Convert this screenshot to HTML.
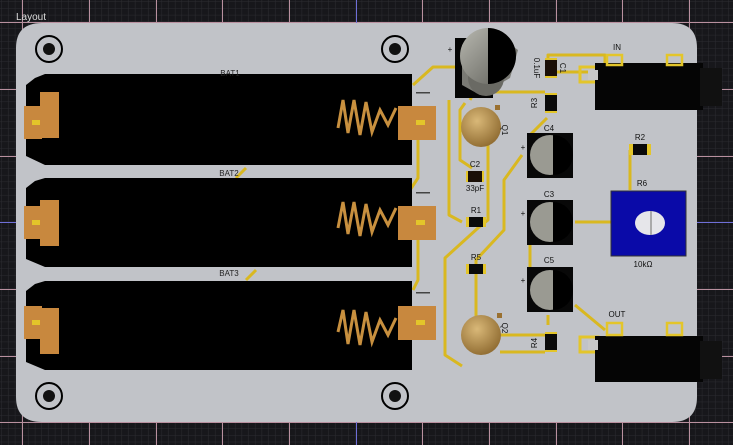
<!DOCTYPE html>
<html><head><meta charset="utf-8"><style>
html,body{margin:0;padding:0;background:#1b1b1f;}
svg{display:block;font-family:"Liberation Sans",sans-serif;}
</style></head><body>
<svg width="733" height="445" viewBox="0 0 733 445" xmlns="http://www.w3.org/2000/svg">
<defs>
<pattern id="minor" width="6.67" height="6.67" patternUnits="userSpaceOnUse" x="22" y="22">
<path d="M6.67 0V6.67H0" fill="none" stroke="#2c2c31" stroke-width="1"/>
</pattern>
<radialGradient id="gold" cx="0.4" cy="0.35" r="0.7"><stop offset="0" stop-color="#d9b878"/><stop offset="1" stop-color="#8e6a30"/></radialGradient>
<linearGradient id="capg" x1="0" y1="0" x2="1" y2="1"><stop offset="0" stop-color="#b8b8b0"/><stop offset="1" stop-color="#5e5e58"/></linearGradient>
</defs>
<rect width="733" height="445" fill="#17171b"/>
<rect width="733" height="445" fill="url(#minor)"/>
<g stroke="#b9909f" stroke-width="1">
<line x1="22.5" y1="0" x2="22.5" y2="445"/><line x1="89.5" y1="0" x2="89.5" y2="445"/><line x1="156.5" y1="0" x2="156.5" y2="445"/><line x1="222.5" y1="0" x2="222.5" y2="445"/><line x1="289.5" y1="0" x2="289.5" y2="445"/><line x1="422.5" y1="0" x2="422.5" y2="445"/><line x1="489.5" y1="0" x2="489.5" y2="445"/><line x1="556.5" y1="0" x2="556.5" y2="445"/><line x1="622.5" y1="0" x2="622.5" y2="445"/><line x1="689.5" y1="0" x2="689.5" y2="445"/>
<line x1="0" y1="22.5" x2="733" y2="22.5"/><line x1="0" y1="89.5" x2="733" y2="89.5"/><line x1="0" y1="156.5" x2="733" y2="156.5"/><line x1="0" y1="289.5" x2="733" y2="289.5"/><line x1="0" y1="356.5" x2="733" y2="356.5"/><line x1="0" y1="422.5" x2="733" y2="422.5"/>
</g>
<line x1="356.5" y1="0" x2="356.5" y2="445" stroke="#6f6fd8"/>
<line x1="0" y1="222.5" x2="733" y2="222.5" stroke="#6f6fd8"/>
<text x="16" y="20" font-size="10" fill="#ddd">Layout</text>
<path d="M42 23 H672 Q697 23 697 48 V397 Q697 422 672 422 H42 Q16 422 16 397 V48 Q16 23 42 23Z" fill="#c1c3c8"/>
<g fill="none" stroke="#000" stroke-width="2">
<circle cx="49" cy="49" r="13"/><circle cx="395" cy="49" r="13"/><circle cx="49" cy="396" r="13"/><circle cx="395" cy="396" r="13"/></g>
<g fill="#111"><circle cx="49" cy="49" r="6"/><circle cx="395" cy="49" r="6"/><circle cx="49" cy="396" r="6"/><circle cx="395" cy="396" r="6"/></g>
<g fill="none" stroke="#d9b820" stroke-width="3" stroke-linejoin="round">
<path d="M413 85 L433 67 H458"/>
<path d="M449 100 V215 L462 222"/>
<path d="M465 103 L460 110 V160 L472 168"/>
<path d="M488 145 V220 L478 228 L445 258 V355 L462 366"/>
<path d="M470 100 L475 90"/>
<path d="M490 92 H545"/>
<path d="M548 58 V55 H605 V63"/>
<path d="M547 118 L530 135"/>
<path d="M522 155 L504 180 V230 L476 260 V330"/>
<path d="M500 335 H545"/>
<path d="M500 352 H545"/>
<path d="M548 325 V315"/>
<path d="M530 222 V290"/>
<path d="M575 222 H612"/>
<path d="M575 305 L605 330"/>
<path d="M630 150 V190"/>
<path d="M410 190 L418 178 V130"/>
<path d="M413 290 L418 280 V240"/>
<path d="M236 178 L246 168"/><path d="M246 280 L256 270"/>
<path d="M555 72 H600 M600 72 V85"/>
</g>
<g>
<path d="M35 78 L45 74 H412 V165 H45 L26 156 V85Z" fill="#000"/>
<path d="M35 181 L45 178 H412 V267 H45 L26 259 V188Z" fill="#000"/>
<path d="M35 284 L45 281 H412 V370 H45 L26 362 V291Z" fill="#000"/>
</g>
<g fill="#c8883e">
<rect x="24" y="106" width="18" height="33"/><rect x="40" y="92" width="19" height="46"/>
<rect x="24" y="206" width="18" height="33"/><rect x="40" y="200" width="19" height="46"/>
<rect x="24" y="306" width="18" height="33"/><rect x="40" y="308" width="19" height="46"/>
<rect x="398" y="106" width="38" height="34"/><rect x="398" y="206" width="38" height="34"/><rect x="398" y="306" width="38" height="34"/>
</g>
<g fill="#e3c52a">
<rect x="32" y="120" width="8" height="5"/><rect x="32" y="220" width="8" height="5"/><rect x="32" y="320" width="8" height="5"/>
<rect x="416" y="120" width="9" height="5"/><rect x="416" y="220" width="9" height="5"/><rect x="416" y="320" width="9" height="5"/>
</g>
<g fill="none" stroke="#c8903f" stroke-width="3">
<path d="M338 128 L343 100 L348 133 L354 100 L360 135 L366 102 L372 132 L380 110 L388 125 L396 108"/>
<path d="M338 228 L343 202 L348 234 L354 202 L360 236 L366 204 L372 232 L380 210 L388 225 L396 208"/>
<path d="M338 332 L343 310 L348 344 L354 310 L360 345 L366 312 L372 342 L380 320 L388 335 L396 318"/>
</g>
<g fill="#444"><rect x="416" y="92" width="14" height="1.5"/><rect x="416" y="192" width="14" height="1.5"/><rect x="416" y="292" width="14" height="1.5"/></g>
<g font-size="8" fill="#222" text-anchor="middle">
<text x="230" y="76">BAT1</text><text x="229" y="176">BAT2</text><text x="229" y="276">BAT3</text></g>
<rect x="455" y="38" width="38" height="60" fill="#050505"/>
<path d="M462 45 L488 28 L518 50 L510 78 L480 95 L462 85Z" fill="#7a7a74"/>
<circle cx="486" cy="78" r="18" fill="#6a6a64"/>
<circle cx="488" cy="56" r="28" fill="url(#capg)"/>
<path d="M488 28 A28 28 0 0 1 488 84 Z" fill="#000"/>
<circle cx="481" cy="127" r="20" fill="url(#gold)"/><rect x="495" y="105" width="5" height="5" fill="#9a7030"/>
<circle cx="481" cy="335" r="20" fill="url(#gold)"/><rect x="497" y="313" width="5" height="5" fill="#9a7030"/>
<g fill="#0a0a0a">
<rect x="466" y="171" width="18" height="11" fill="#e3c52a"/><rect x="468" y="171" width="14" height="11" fill="#1a0f08"/>
<rect x="466" y="217" width="20" height="10" fill="#e3c52a"/><rect x="469" y="217" width="14" height="10"/>
<rect x="466" y="264" width="20" height="10" fill="#e3c52a"/><rect x="469" y="264" width="14" height="10"/>
<rect x="545" y="58" width="12" height="20" fill="#e3c52a"/><rect x="545" y="60" width="12" height="16" fill="#1a0f08"/>
<rect x="545" y="93" width="12" height="20" fill="#e3c52a"/><rect x="545" y="95" width="12" height="16"/>
<rect x="545" y="332" width="12" height="20" fill="#e3c52a"/><rect x="545" y="334" width="12" height="16"/>
<rect x="629" y="144" width="22" height="11" fill="#e3c52a"/><rect x="633" y="144" width="14" height="11"/>
</g>
<g>
<rect x="527" y="133" width="46" height="45" fill="#080808"/><circle cx="550" cy="155" r="20" fill="#9a9a92"/><path d="M553 135 A20 20 0 0 1 553 175Z" fill="#000"/>
<rect x="527" y="200" width="46" height="45" fill="#080808"/><circle cx="550" cy="222" r="20" fill="#9a9a92"/><path d="M553 202 A20 20 0 0 1 553 242Z" fill="#000"/>
<rect x="527" y="267" width="46" height="45" fill="#080808"/><circle cx="550" cy="290" r="20" fill="#9a9a92"/><path d="M553 270 A20 20 0 0 1 553 310Z" fill="#000"/>
</g>
<rect x="611" y="191" width="75" height="65" fill="#0a0aa8" stroke="#333" stroke-width="1"/>
<ellipse cx="650" cy="223" rx="15" ry="12" fill="#e6e6ea"/><rect x="650" y="211" width="2" height="24" fill="#aaa"/>
<g>
<rect x="580" y="67" width="18" height="15" fill="none" stroke="#e3c52a" stroke-width="3"/>
<rect x="595" y="63" width="108" height="47" fill="#050505"/><rect x="700" y="68" width="22" height="38" fill="#111"/>
<rect x="588" y="70" width="10" height="10" fill="#c8c8c8"/>
<rect x="580" y="337" width="18" height="15" fill="none" stroke="#e3c52a" stroke-width="3"/>
<rect x="595" y="336" width="108" height="46" fill="#050505"/><rect x="700" y="341" width="22" height="38" fill="#111"/>
<rect x="588" y="340" width="10" height="10" fill="#c8c8c8"/>
<rect x="607" y="55" width="15" height="10" fill="none" stroke="#e3c52a" stroke-width="2.5"/>
<rect x="667" y="55" width="15" height="10" fill="none" stroke="#e3c52a" stroke-width="2.5"/>
<rect x="607" y="323" width="15" height="12" fill="none" stroke="#e3c52a" stroke-width="2.5"/>
<rect x="667" y="323" width="15" height="12" fill="none" stroke="#e3c52a" stroke-width="2.5"/>
</g>
<g font-size="8" fill="#111" text-anchor="middle">
<text x="617" y="50">IN</text><text x="617" y="317">OUT</text>
<text x="549" y="131">C4</text><text x="549" y="197">C3</text><text x="549" y="263">C5</text>
<text x="640" y="140">R2</text><text x="642" y="186">R6</text><text x="643" y="267">10kΩ</text>
<text x="475" y="167">C2</text><text x="475" y="191">33pF</text><text x="476" y="213">R1</text><text x="476" y="260">R5</text>
<text x="450" y="52">+</text><text x="523" y="150">+</text><text x="523" y="216">+</text><text x="523" y="283">+</text>
<text transform="translate(534,68) rotate(90)">0.1uF</text><text transform="translate(560,68) rotate(90)">C1</text>
<text transform="translate(537,103) rotate(-90)">R3</text><text transform="translate(537,343) rotate(-90)">R4</text>
<text transform="translate(502,130) rotate(90)">Q1</text><text transform="translate(502,328) rotate(90)">Q2</text>
</g>
</svg>
</body></html>
